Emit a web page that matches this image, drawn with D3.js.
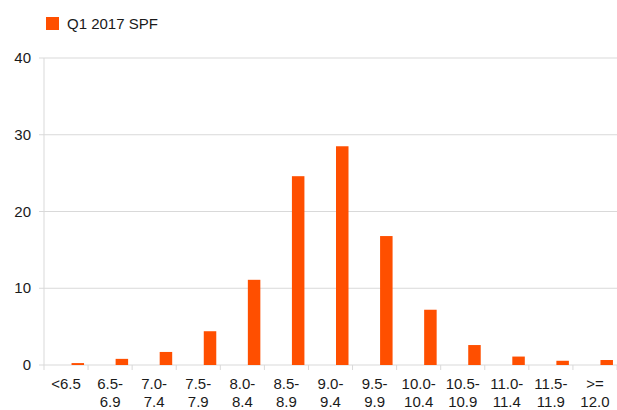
<!DOCTYPE html>
<html>
<head>
<meta charset="utf-8">
<script src="https://cdn.jsdelivr.net/npm/d3@7"></script>
<style>
  body { margin: 0; background: #fff; }
  text { font-family: "Liberation Sans", Arial, sans-serif; fill: #1a1a1a; }
</style>
</head>
<body>
<div id="chart"></div>
<script>
// Categories (two-line labels) and values
const categories = ["<6.5", "6.5-6.9", "7.0-7.4", "7.5-7.9", "8.0-8.4", "8.5-8.9", "9.0-9.4",
  "9.5-9.9", "10.0-10.4", "10.5-10.9", "11.0-11.4", "11.5-11.9", ">=12.0"];
const labelLines = [["<6.5"], ["6.5-", "6.9"], ["7.0-", "7.4"], ["7.5-", "7.9"], ["8.0-", "8.4"],
  ["8.5-", "8.9"], ["9.0-", "9.4"], ["9.5-", "9.9"], ["10.0-", "10.4"], ["10.5-", "10.9"],
  ["11.0-", "11.4"], ["11.5-", "11.9"], [">=", "12.0"]];
const spf = [0.25, 0.8, 1.7, 4.4, 11.1, 24.6, 28.5, 16.8, 7.2, 2.6, 1.1, 0.55, 0.65];
const yTicks = [0, 10, 20, 30, 40];

const width = 617, height = 410;
const margin = { top: 58, right: 0, bottom: 45, left: 44 };
const color = "#ff4f00";

const svg = d3.select("#chart").append("svg")
  .attr("width", width)
  .attr("height", height);

const x = d3.scaleBand()
  .domain(categories)
  .range([margin.left, width - margin.right]);

const y = d3.scaleLinear()
  .domain([0, 40])
  .range([height - margin.bottom, margin.top]);

// gridlines
svg.append("g")
  .selectAll("line")
  .data(yTicks)
  .join("line")
  .attr("x1", margin.left - 5)
  .attr("x2", width - margin.right)
  .attr("y1", d => y(d))
  .attr("y2", d => y(d))
  .attr("stroke", "#d9d9d9")
  .attr("stroke-width", 1);

// y labels
svg.append("g")
  .selectAll("text")
  .data(yTicks)
  .join("text")
  .attr("x", 31)
  .attr("y", d => y(d) + 5)
  .attr("text-anchor", "end")
  .style("font-size", "15px")
  .text(d => d);

// y axis line
svg.append("line")
  .attr("x1", margin.left).attr("x2", margin.left)
  .attr("y1", y(40)).attr("y2", y(0))
  .attr("stroke", "#d9d9d9");

// x ticks at band edges
const edges = categories.map(c => x(c)).concat([x.range()[1]]);
svg.append("g")
  .selectAll("line")
  .data(edges)
  .join("line")
  .attr("x1", d => d).attr("x2", d => d)
  .attr("y1", y(0)).attr("y2", y(0) + 5)
  .attr("stroke", "#d9d9d9");

// bars (offset to the right half of each band)
const barW = 12.5;
svg.append("g")
  .selectAll("rect")
  .data(spf)
  .join("rect")
  .attr("x", (d, i) => x(categories[i]) + x.bandwidth() / 2 + 5.5)
  .attr("y", d => y(d))
  .attr("width", barW)
  .attr("height", d => y(0) - y(d))
  .attr("fill", color);

// x labels
const xl = svg.append("g")
  .selectAll("text")
  .data(categories)
  .join("text")
  .attr("x", d => x(d) + x.bandwidth() / 2)
  .attr("y", 389)
  .attr("text-anchor", "middle")
  .style("font-size", "15px");
xl.selectAll("tspan")
  .data((d, i) => labelLines[i])
  .join("tspan")
  .attr("x", function () { return d3.select(this.parentNode).attr("x"); })
  .attr("dy", (d, j) => j === 0 ? 0 : 18)
  .text(d => d);

// legend
svg.append("rect")
  .attr("x", 46).attr("y", 17)
  .attr("width", 13).attr("height", 13)
  .attr("fill", color);
svg.append("text")
  .attr("x", 67).attr("y", 29)
  .style("font-size", "15px")
  .text("Q1 2017 SPF");
</script>
</body>
</html>
